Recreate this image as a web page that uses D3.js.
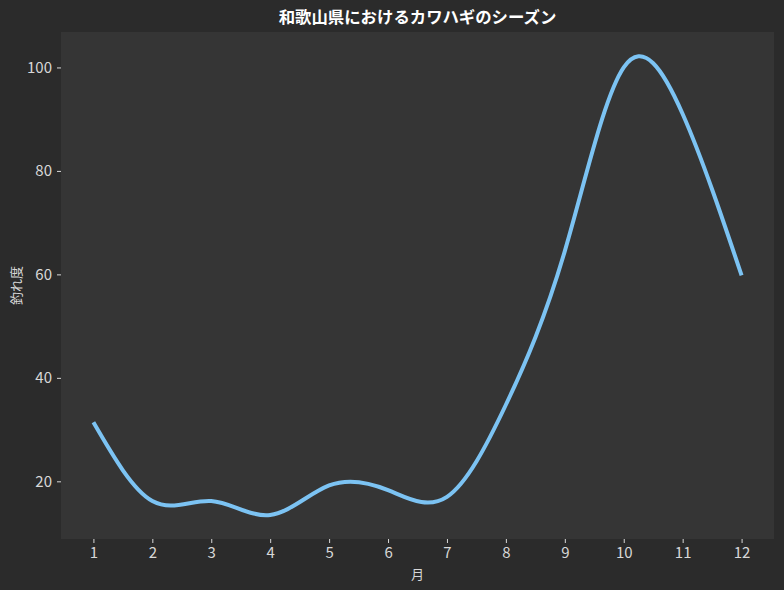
<!DOCTYPE html>
<html><head><meta charset="utf-8">
<script src="https://cdn.jsdelivr.net/npm/d3@7"></script>
<style>html,body{margin:0;padding:0;background:#2b2b2b;}svg{display:block;}</style>
</head><body>
<script>
const months = [1,2,3,4,5,6,7,8,9,10,11,12];
const catchLevel = [31.4, 16.2, 16.2, 13.5, 19.2, 18.3, 17.0, 34.8, 64.5, 100.0, 91.0, 59.8];
const yTicks = [20, 40, 60, 80, 100];
const titleText = "和歌山県におけるカワハギのシーズン";
const xLabel = "月";
const yLabel = "釣れ度";

const W = 784, H = 590;
const m = {left: 61, right: 10, top: 32, bottom: 51};
const svg = d3.select("body").append("svg").attr("width", W).attr("height", H);
svg.append("rect").attr("width", W).attr("height", H).attr("fill", "#2b2b2b");

const x = d3.scaleLinear().domain([0.45, 12.55]).range([m.left, W - m.right]);
const y = d3.scaleLinear().domain([8.85, 106.85]).range([H - m.bottom, m.top]);

svg.append("rect").attr("x", m.left).attr("y", m.top)
  .attr("width", W - m.left - m.right).attr("height", H - m.top - m.bottom)
  .attr("fill", "#353535");

const font = "'Noto Sans CJK JP', 'Noto Sans', sans-serif";
const tickFont = "'Liberation Sans Narrow', 'Noto Sans CJK JP', sans-serif";

const xAxis = svg.append("g").attr("transform", `translate(0,${H - m.bottom})`)
  .call(d3.axisBottom(x).tickValues(months).tickFormat(d3.format("d")).tickSize(4).tickPadding(4));
const yAxis = svg.append("g").attr("transform", `translate(${m.left},0)`)
  .call(d3.axisLeft(y).tickValues(yTicks).tickSize(4).tickPadding(5));
[xAxis, yAxis].forEach(g => {
  g.select(".domain").remove();
  g.selectAll(".tick line").attr("stroke", "#d8d8d8");
  g.selectAll(".tick text").attr("fill", "#d8d8d8").style("font-family", tickFont).style("font-size", "15px");
});

const line = d3.line().x((d, i) => x(months[i])).y(d => y(d)).curve(d3.curveNatural);
svg.append("path").datum(catchLevel).attr("d", line)
  .attr("fill", "none").attr("stroke", "#7cc3f3").attr("stroke-width", 4)
  .attr("stroke-linecap", "butt");

svg.append("text").attr("x", (m.left + W - m.right) / 2).attr("y", 23)
  .attr("text-anchor", "middle").attr("fill", "#ffffff")
  .style("font-family", font).style("font-size", "16.4px").style("font-weight", "bold")
  .text(titleText);

svg.append("text").attr("x", (m.left + W - m.right) / 2).attr("y", 579)
  .attr("text-anchor", "middle").attr("fill", "#d8d8d8")
  .style("font-family", font).style("font-size", "13px").text(xLabel);

svg.append("text").attr("transform", `translate(21,${(m.top + H - m.bottom) / 2}) rotate(-90)`)
  .attr("text-anchor", "middle").attr("fill", "#d8d8d8")
  .style("font-family", font).style("font-size", "13px").text(yLabel);
</script>
</body></html>
